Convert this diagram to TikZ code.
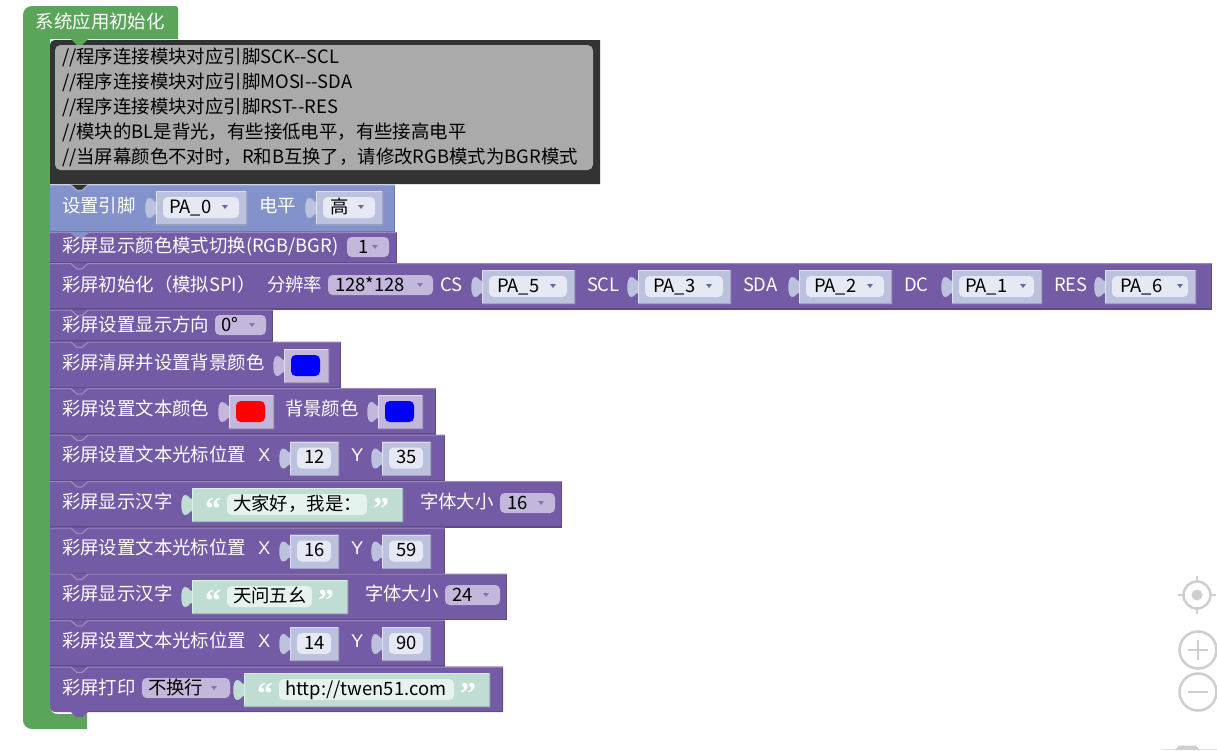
\documentclass[tikz,border=0pt]{standalone}
\usepackage{fontspec}
\setmainfont{Noto Sans CJK SC}
\newfontfamily\quotefont{Liberation Serif}
\newfontfamily\xyfont{Liberation Sans}
\definecolor{purp}{HTML}{745BA5}
\definecolor{pinblue}{HTML}{8492CC}
\definecolor{hatgreen}{HTML}{5BA55B}
\definecolor{darkc}{HTML}{333333}
\definecolor{grayc}{HTML}{AAAAAA}
\definecolor{boxblue}{HTML}{BCC2DE}
\definecolor{inblue}{HTML}{E6E9F4}
\definecolor{boxpurp}{HTML}{C3B7DB}
\definecolor{boxgreen}{HTML}{BFDDD2}
\definecolor{ingreen}{HTML}{E6F2EE}
\definecolor{arrowc}{HTML}{5F6E9E}
\definecolor{iconc}{HTML}{CFCFCF}
\newcounter{tn}
\tikzset{
  lbl/.style={anchor=base west,inner sep=0pt,outer sep=0pt,font=\fontsize{13.8pt}{13.8pt}\selectfont,text=white},
  val/.style={lbl,text=black},
  cval/.style={val,anchor=base},
  quot/.style={anchor=base,inner sep=0pt,text=white,font=\quotefont\bfseries\fontsize{24pt}{24pt}\selectfont},
  icon/.style={draw=iconc,line width=1.9pt}
}
\newcommand\txt[4][lbl]{\stepcounter{tn}\node[#1] (t\arabic{tn}) at (#2,#3+6.4) {#4};}
% block: x0 y0 x1 y1 colour previous-colour
\newcommand\blk[6]{%
  \fill[#5] (#1,#2) rectangle (#3,#4);
  \fill[#6] (#1+21,#2) -- (#1+27,#2+6) -- (#1+32,#2+6) -- (#1+38,#2) -- cycle;
  \draw[#5!72!white,line width=.9pt] (#1,#2+.6) -- (#1+21,#2+.6) -- (#1+27,#2+6) -- (#1+32,#2+6) -- (#1+38,#2+.6) -- (#3,#2+.6);
  \draw[#5!82!black,line width=.8pt] (#3-.5,#2+1) -- (#3-.5,#4-.5) -- (#1,#4-.5);
}
% socket + box: x0 x1 y0 y1 colour
\newcommand\sockbox[5]{%
  \fill[#5] (#1,#3) -- (#2,#3) -- (#2,#4) -- (#1,#4) -- (#1,#3+23)
    .. controls (#1-3,#3+23) and (#1-3,#3+27) .. (#1-7,#3+27)
    .. controls (#1-12,#3+27) and (#1-12,#3+7) .. (#1-7,#3+7)
    .. controls (#1-3,#3+7) and (#1-3,#3+11) .. (#1,#3+11) -- cycle;
  \draw[#5!85!black,line width=.6pt] (#1+.4,#4-.4) -- (#2-.4,#4-.4) -- (#2-.4,#3+.4);
  \draw[white!50!#5,line width=.6pt] (#1+.4,#4-1) -- (#1+.4,#3+.4) -- (#2-.8,#3+.4);
}
\newcommand\fld[5]{\fill[#5,rounded corners=3.5pt] (#1,#3) rectangle (#2,#4);}
\newcommand\dnarrow[3][arrowc]{\fill[#1] (#2-3,#3-2) -- (#2+3,#3-2) -- (#2,#3+2) -- cycle;}
% pin dropdown box: x0 x1 y0 text textx arrowx
\newcommand\pin[6]{%
  \sockbox{#1}{#2}{#3}{#3+34}{boxblue}
  \fld{#1+7}{#2-8}{#3+6}{#3+27}{inblue}
  \txt[val]{#5}{#3+16}{#4}
  \dnarrow{#6}{#3+16}
}
% purple dropdown: x0 x1 yc text textx arrowx
\newcommand\dd[6]{%
  \fld{#1}{#2}{#3-10}{#3+10}{boxpurp}
  \txt[val]{#5}{#3}{#4}
  \dnarrow[purp!85!white]{#6}{#3}
}
% number input: x0 x1 y0 text
\newcommand\numb[4]{%
  \sockbox{#1}{#2}{#3}{#3+34}{boxblue}
  \fld{#1+7}{#2-8}{#3+6}{#3+27}{inblue}
  \stepcounter{tn}\node[cval] (t\arabic{tn}) at ({(#1+#2)/2},#3+22.4) {#4};
}
% colour swatch: x0 y0 colour
\newcommand\swatch[3]{%
  \sockbox{#1}{#1+45}{#2}{#2+34}{boxpurp}
  \fill[#3,rounded corners=3.5pt] (#1+7,#2+6) rectangle (#1+36,#2+27);
}
% string: x0 x1 y0 ix0 ix1 text
\newcommand\strb[6]{%
  \sockbox{#1}{#2}{#3}{#3+34}{boxgreen}
  \fill[ingreen,rounded corners=3.5pt] (#4,#3+6) rectangle (#5,#3+27);
  \stepcounter{tn}\node[quot] (t\arabic{tn}) at (#4-14,#3+31) {“};
  \stepcounter{tn}\node[quot] (t\arabic{tn}) at (#5+14,#3+31) {”};
  \txt[val]{#4+6}{#3+16}{#6}
}
% cursor block: y0 a b
\newcommand\curs[3]{%
  \blk{50}{#1}{445}{#1+46.5}{purp}{purp}
  \txt{62}{#1+21}{彩屏设置文本光标位置}
  \txt{258}{#1+21}{\xyfont X}
  \numb{290}{339}{#1+7}{#2}
  \txt{351}{#1+21}{\xyfont Y}
  \numb{382}{431}{#1+7}{#3}
}
\begin{document}
\begin{tikzpicture}[x=0.75pt,y=-0.75pt]
\useasboundingbox (0,0) rectangle (1217,750);
\fill[white] (0,0) rectangle (1217,750);
% hat and C-shaped frame
\fill[hatgreen] (23,15) .. controls (23,10) and (27,6) .. (32,6) -- (176,6) -- (178,8) -- (178,39) -- (50,39) -- (50,706)
  .. controls (50,711) and (53,714) .. (58,714) -- (87,714) -- (87,729) -- (32,729)
  .. controls (27,729) and (23,725) .. (23,720) -- cycle;
\txt{36}{22}{系统应用初始化}
% comment block
\fill[darkc] (50,46) .. controls (50,42) and (52,40) .. (56,40) -- (600,40) -- (600,184) -- (50,184) -- cycle;
\fill[hatgreen] (71,39) -- (77,45) -- (82,45) -- (88,39) -- cycle;
\fill[grayc,rounded corners=4pt] (55,45) rectangle (593,170);
\txt[val]{62}{57}{//程序连接模块对应引脚SCK-{}-SCL}
\txt[val]{62}{82}{//程序连接模块对应引脚MOSI-{}-SDA}
\txt[val]{62}{107}{//程序连接模块对应引脚RST-{}-RES}
\txt[val]{62}{132}{//模块的BL是背光，有些接低电平，有些接高电平}
\txt[val]{62}{157}{//当屏幕颜色不对时，R和B互换了，请修改RGB模式为BGR模式}
% pin block
\blk{50}{184.5}{395}{232}{pinblue}{darkc}
\txt{62}{206}{设置引脚}
\pin{156}{247}{191}{PA\_0}{169}{225}
\txt{259}{206}{电平}
\pin{316}{383}{191}{高}{330}{361}
% colour mode
\blk{50}{232}{397}{263}{purp}{pinblue}
\txt{62}{246}{彩屏显示颜色模式切换(RGB/BGR)}
\dd{347}{389}{247}{1}{358}{375}
% init
\blk{50}{263}{1212}{309.5}{purp}{purp}
\txt{62}{285}{彩屏初始化（模拟SPI）}
\txt{267}{285}{分辨率}
\dd{328}{433}{285}{128*128}{335}{420}
\txt{440}{285}{CS}
\pin{482}{575}{270}{PA\_5}{497}{553}
\txt{587}{285}{SCL}
\pin{638}{731}{270}{PA\_3}{653}{709}
\txt{743}{285}{SDA}
\pin{799}{892}{270}{PA\_2}{814}{870}
\txt{904}{285}{DC}
\pin{952}{1042}{270}{PA\_1}{965}{1023}
\txt{1054}{285}{RES}
\pin{1105}{1196}{270}{PA\_6}{1120}{1180}
% direction
\blk{50}{309.5}{273}{341.5}{purp}{purp}
\txt{62}{325}{彩屏设置显示方向}
\dd{215}{266}{325}{0°}{221}{252}
% clear
\blk{50}{341.5}{341}{388}{purp}{purp}
\txt{62}{363}{彩屏清屏并设置背景颜色}
\swatch{284}{349}{blue}
% text colour
\blk{50}{388}{436}{434.5}{purp}{purp}
\txt{62}{409}{彩屏设置文本颜色}
\swatch{229}{395}{red}
\txt{285}{409}{背景颜色}
\swatch{378}{395}{blue}
\curs{434.5}{12}{35}
% hanzi
\blk{50}{481}{562}{527.5}{purp}{purp}
\txt{62}{502}{彩屏显示汉字}
\strb{192}{403}{488}{227}{367}{大家好，我是：}
\txt{420}{502}{字体大小}
\dd{500}{555}{503}{16}{507}{541}
\curs{527.5}{16}{59}
\blk{50}{573.5}{507}{620}{purp}{purp}
\txt{62}{594}{彩屏显示汉字}
\strb{192}{348}{580}{227}{312}{天问五幺}
\txt{365}{594}{字体大小}
\dd{445}{500}{595}{24}{452}{486}
\curs{620}{14}{90}
% print (last block, rounded lower-left corner and bottom tab)
\fill[purp] (50,666.5) -- (503,666.5) -- (503,712) -- (56,712)
  .. controls (52,712) and (50,710) .. (50,706) -- cycle;
\fill[purp] (71,712) -- (76,717) -- (83,717) -- (88,712) -- cycle;
\draw[purp!72!white,line width=.9pt] (50,667.1) -- (71,667.1) -- (77,672.5) -- (82,672.5) -- (88,667.1) -- (503,667.1);
\draw[purp!82!black,line width=.8pt] (502.5,667.5) -- (502.5,711.5) -- (88,711.5);
\txt{62}{688}{彩屏打印}
\dd{142}{230}{688}{不换行}{148}{214}
\strb{244}{490}{673}{279}{454}{http://twen51.com}
% workspace controls
\draw[icon] (1197,595) circle[radius=13.5];
\fill[iconc] (1197,595) circle[radius=5.5];
\draw[icon] (1197,576) -- (1197,582) (1197,608) -- (1197,614) (1178,595) -- (1184,595) (1210,595) -- (1216,595);
\draw[icon] (1198,650) circle[radius=18.5];
\draw[icon] (1188,650) -- (1208,650) (1198,640) -- (1198,660);
\draw[icon] (1198,692) circle[radius=18.5];
\draw[icon] (1188,692) -- (1208,692);
\draw[iconc!60!white,line width=.5pt] (1162,749.4) -- (1217,749.4);
\fill[iconc] (1175,750) -- (1179,745.5) -- (1196,745.5) -- (1200,750) -- cycle;
\end{tikzpicture}
\end{document}
